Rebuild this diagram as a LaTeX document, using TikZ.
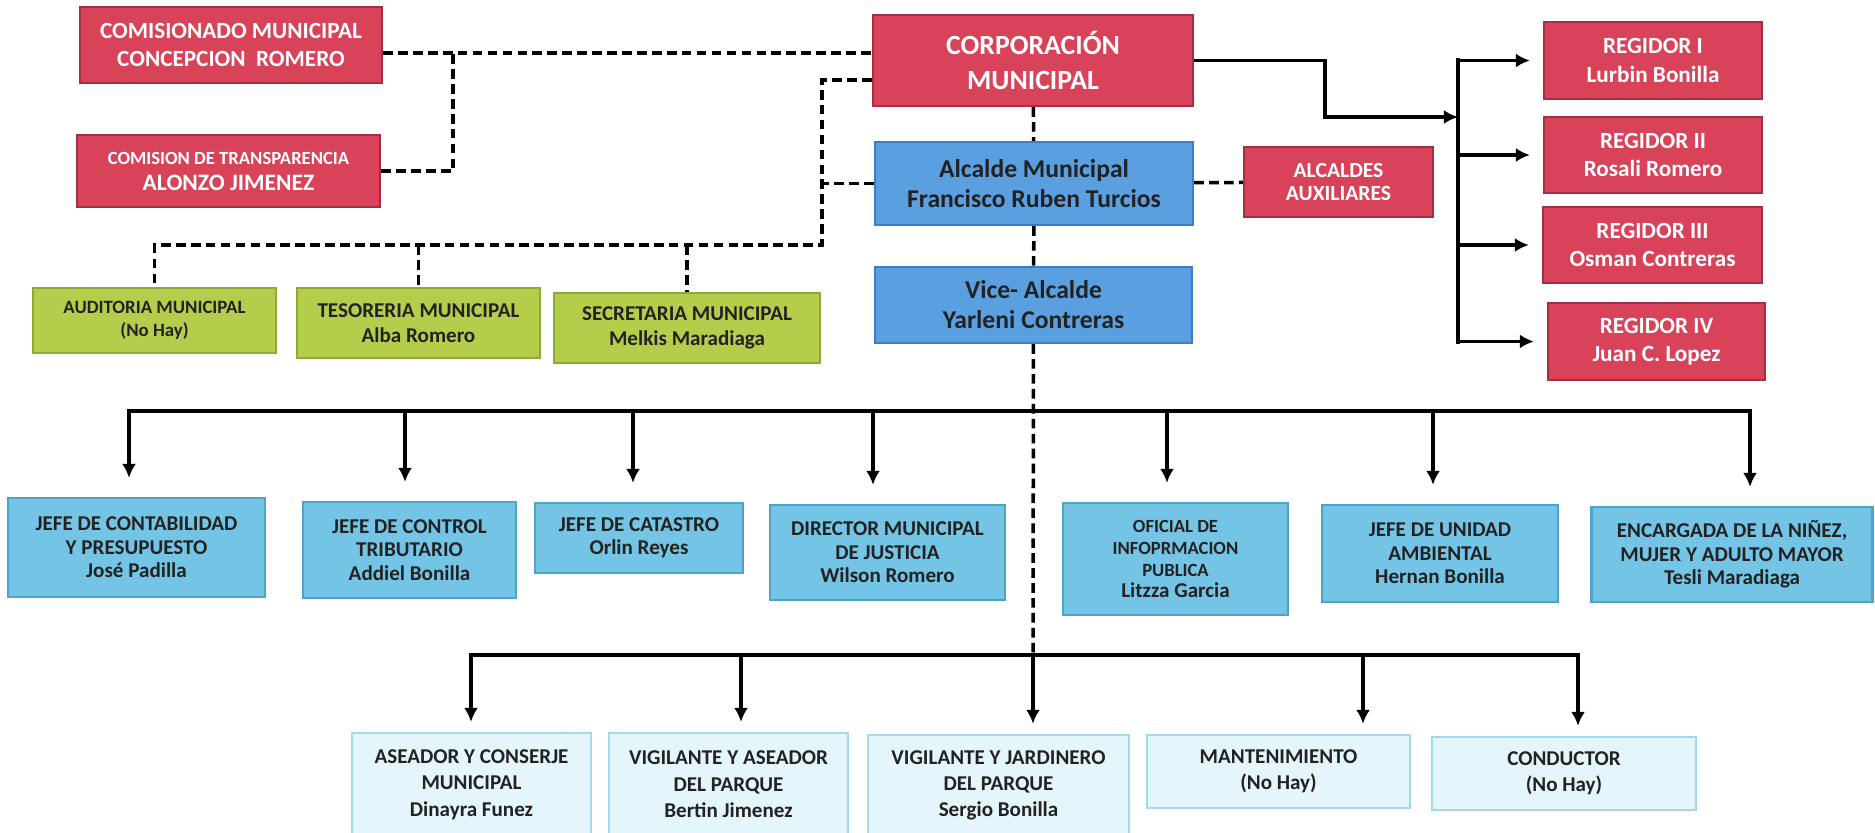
\documentclass[tikz,border=0pt]{standalone}
\usepackage{fontspec}
\setmainfont{Carlito}
\usetikzlibrary{arrows.meta}

\newcommand{\tam}[2]{\fontsize{#1}{#2}\selectfont}

\definecolor{rojo}{HTML}{D8435A}
\definecolor{rojoborde}{HTML}{A52F42}
\definecolor{azul}{HTML}{5A9FE0}
\definecolor{azulborde}{HTML}{3D7DC4}
\definecolor{verde}{HTML}{B4CE4C}
\definecolor{verdeborde}{HTML}{8EAA3A}
\definecolor{celeste}{HTML}{74C4E6}
\definecolor{celesteborde}{HTML}{4FA2CA}
\definecolor{claro}{HTML}{E4F6FB}
\definecolor{claroborde}{HTML}{A3DAEA}
\definecolor{texto}{HTML}{222222}

\begin{document}
\begin{tikzpicture}[x=0.02cm, y=-0.02cm,
  caja/.style={draw, line width=1.3pt, inner sep=0pt, align=center},
  wh/.style 2 args={minimum width=#1*0.02cm, minimum height=#2*0.02cm},
  letra/.style 2 args={font=\bfseries\tam{#1}{#2}},
  corpbox/.style={caja, fill=rojo, draw=rojoborde, text=white},
  alcbox/.style={caja, fill=azul, draw=azulborde, text=texto},
  apoyobox/.style={caja, fill=verde, draw=verdeborde, text=texto},
  jefebox/.style={caja, fill=celeste, draw=celesteborde, text=texto, letra={12}{13.3}},
  servbox/.style={caja, fill=claro, draw=claroborde, text=texto, letra={12}{15}},
  punteada/.style={line width=2pt, dash pattern=on 5.5pt off 3pt},
  flecha/.style={line width=2pt, -{Latex[length=8pt,width=8pt]}},
  barra/.style={line width=2.3pt, line cap=rect}]
\path[use as bounding box, fill=white] (0,0) rectangle (1875,832);

% Concejo
\node[corpbox, wh={302}{76}, letra={13.2}{15.8}] (comis) at (231,45) {COMISIONADO MUNICIPAL\\CONCEPCION\ \ ROMERO};
\node[corpbox, wh={303}{72}, letra={13.4}{14.8}] (transp) at (228.5,171) {{\tam{10.6}{14.8}COMISION DE TRANSPARENCIA}\\ALONZO JIMENEZ};
\node[corpbox, wh={320}{91}, letra={15.8}{20}] (corp) at (1033,60.5) {CORPORACIÓN\\MUNICIPAL};
\node[alcbox, wh={318}{83}, letra={14.6}{17}] (alcalde) at (1034,183.5) {Alcalde Municipal\\Francisco Ruben Turcios};
\node[corpbox, wh={189}{70}, letra={12.3}{13.5}] (aux) at (1338.5,182) {ALCALDES\\AUXILIARES};
\node[alcbox, wh={317}{76}, letra={14.6}{17}] (vice) at (1033.5,305) {Vice- Alcalde\\Yarleni Contreras};

% Regidores
\node[corpbox, wh={218}{77}, letra={13.2}{16}] (reg1) at (1653,60.5) {REGIDOR I\\Lurbin Bonilla};
\node[corpbox, wh={218}{76}, letra={13.2}{16}] (reg2) at (1653,155) {REGIDOR II\\Rosali Romero};
\node[corpbox, wh={219}{76}, letra={13.2}{16}] (reg3) at (1652.5,245) {REGIDOR III\\Osman Contreras};
\node[corpbox, wh={217}{77}, letra={13.2}{16}] (reg4) at (1656.5,341.5) {REGIDOR IV\\Juan C. Lopez};

% Apoyo
\node[apoyobox, wh={243}{65}, letra={10.7}{13}] (audit) at (154.5,320.5) {AUDITORIA MUNICIPAL\\(No Hay)};
\node[apoyobox, wh={243}{70}, letra={12}{14}] (tesor) at (418.5,323) {TESORERIA MUNICIPAL\\Alba Romero};
\node[apoyobox, wh={266}{70}, letra={12}{14.5}] (secre) at (687,328) {SECRETARIA MUNICIPAL\\Melkis Maradiaga};

% Jefaturas
\node[jefebox, wh={257}{99}] (conta) at (136.5,547.5) {JEFE DE CONTABILIDAD\\Y PRESUPUESTO\\José Padilla};
\node[jefebox, wh={213}{96}] (tribut) at (409.5,550) {JEFE DE CONTROL\\TRIBUTARIO\\Addiel Bonilla};
\node[jefebox, wh={208}{70}] (catast) at (639,538) {JEFE DE CATASTRO\\Orlin Reyes};
\node[jefebox, wh={235}{95}] (justic) at (887.5,552.5) {DIRECTOR MUNICIPAL\\DE JUSTICIA\\Wilson Romero};
\node[jefebox, wh={225}{112}, letra={10.6}{12.5}] (oficial) at (1175.5,559) {OFICIAL DE\\INFOPRMACION\\PUBLICA\\{\tam{12}{12.5}Litzza Garcia}};
\node[jefebox, wh={236}{97}] (ambient) at (1440,553.5) {JEFE DE UNIDAD\\AMBIENTAL\\Hernan Bonilla};
\node[jefebox, wh={281}{95}] (ninez) at (1732,554.5) {ENCARGADA DE LA NIÑEZ,\\MUJER Y ADULTO MAYOR\\Tesli Maradiaga};

% Servicios
\node[servbox, wh={239}{103}] (aseador) at (471.5,784.5) {ASEADOR Y CONSERJE\\MUNICIPAL\\Dinayra Funez};
\node[servbox, wh={239}{103}] (vigase) at (728.5,784.5) {VIGILANTE Y ASEADOR\\DEL PARQUE\\Bertin Jimenez};
\node[servbox, wh={261}{101}] (vigjar) at (998.5,785.5) {VIGILANTE Y JARDINERO\\DEL PARQUE\\Sergio Bonilla};
\node[servbox, wh={263}{73}] (manten) at (1278.5,771.5) {MANTENIMIENTO\\(No Hay)};
\node[servbox, wh={264}{73}] (conduct) at (1564,773.5) {CONDUCTOR\\(No Hay)};

% Lineas punteadas
\draw[punteada] ([yshift=-0.16cm]comis.east) -- ([yshift=-0.16cm]comis.east -| corp.west);
\draw[punteada] (transp.east) -| ([xshift=1.4cm,yshift=-0.16cm]comis.east);
\coordinate (dv) at (822,245);
\draw[punteada] ([yshift=-0.39cm]corp.west) -| (dv) -| (audit.north);
\draw[punteada] (tesor.north |- dv) -- (tesor.north);
\draw[punteada] (secre.north |- dv) -- (secre.north);
\draw[punteada] (alcalde.west) -- (alcalde.west -| dv);
\draw[punteada] (corp) -- (alcalde);
\draw[punteada] (alcalde) -- (vice);
\draw[punteada] (alcalde) -- (aux);
\coordinate (bus2) at (1033,655);
\draw[punteada] (vice) -- (bus2);

% Regidores
\coordinate (bus) at (1458,117);
\draw[flecha] (corp.east) -| ([xshift=-2.66cm]bus) -- (bus);
\draw[barra] (reg1.west -| bus) -- (reg4.west -| bus);
\foreach \r in {reg1,reg2,reg3,reg4}
  \draw[flecha, shorten >=0.26cm] (\r.west -| bus) -- (\r.west);

% Jefaturas y servicios
\foreach \n/\x in {conta/129, tribut/405, catast/633, justic/873, oficial/1167, ambient/1433, ninez/1750}{
  \coordinate (j\n) at (\x,411);
  \draw[flecha, shorten >=0.38cm] (j\n) -- (j\n |- \n.north);
}
\draw[barra] (jconta) -- (jninez);
\foreach \n/\x in {aseador/471, vigase/741, vigjar/1033, manten/1363, conduct/1578}{
  \coordinate (s\n) at (\x,655);
  \draw[flecha, shorten >=0.2cm] (s\n) -- (s\n |- \n.north);
}
\draw[barra] (saseador) -- (sconduct);
\end{tikzpicture}
\end{document}
